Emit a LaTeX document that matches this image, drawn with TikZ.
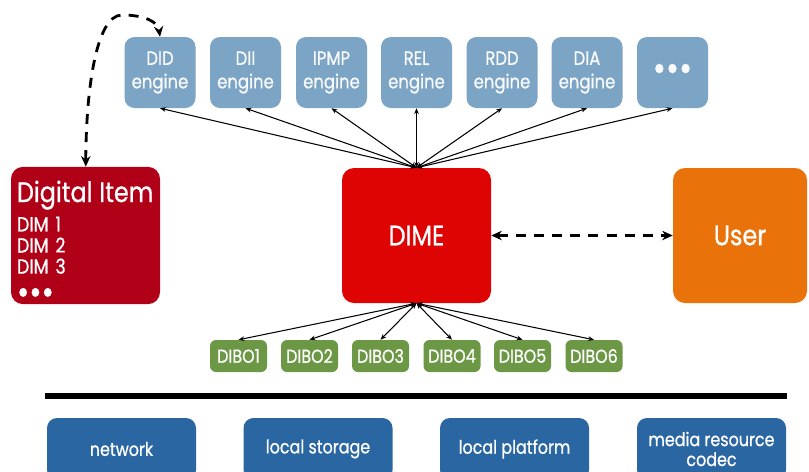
\documentclass[tikz,border=0pt]{standalone}
\usepackage{fontspec}
\setmainfont{Poppins}[FakeStretch=0.85, FakeBold=0.8]
\usetikzlibrary{arrows.meta,calc}
\definecolor{engblue}{RGB}{124,164,197}
\definecolor{direddark}{RGB}{176,0,24}
\definecolor{dimered}{RGB}{222,4,4}
\definecolor{userorange}{RGB}{233,115,10}
\definecolor{dibogreen}{RGB}{108,152,70}
\definecolor{basblue}{RGB}{42,102,162}
\tikzset{
  box/.style={rounded corners=12*0.03cm, inner sep=0pt, text=white, align=center},
  engine/.style={box, fill=engblue, minimum width=71*0.03cm, minimum height=71*0.03cm,
     rounded corners=10*0.03cm, font=\fontsize{16.5}{20}\selectfont, text=white!95!engblue},
  big/.style={box, minimum width=149*0.03cm, minimum height=135*0.03cm},
  dibo/.style={box, fill=dibogreen, minimum width=57*0.03cm, minimum height=32*0.03cm,
     rounded corners=6*0.03cm, font=\fontsize{16}{18}\selectfont},
  base/.style={box, fill=basblue, minimum width=149*0.03cm, minimum height=62*0.03cm,
     rounded corners=10*0.03cm, font=\fontsize{16}{17}\selectfont},
  link/.style={line width=0.9pt, {Stealth[length=5pt,width=4pt]}-{Stealth[length=5pt,width=4pt]}},
  dlink/.style={line width=2.4pt, dash pattern=on 8.5pt off 7pt,
     {Stealth[length=9pt,width=8pt]}-{Stealth[length=9pt,width=8pt]}}
}
\begin{document}
\begin{tikzpicture}[x=0.03cm,y=-0.03cm]
\clip (0,0) rectangle (809,471);
\fill[white] (0,0) rectangle (809,471);
% engines
\node[engine] (did)  at (160,72.5)   {DID\\engine};
\node[engine] (dii)  at (245.5,72.5) {DII\\engine};
\node[engine] (ipmp) at (331.5,72.5) {IPMP\\engine};
\node[engine] (rel)  at (416.5,72.5) {REL\\engine};
\node[engine] (rdd)  at (502,72.5)   {RDD\\engine};
\node[engine] (dia)  at (587,72.5)   {DIA\\engine};
\node[engine, font=\fontsize{32}{32}\selectfont] (more) at (672.5,72.5) {•••};
% main boxes
\node[big, fill=direddark, align=left, text width=137*0.03cm,
      font=\fontsize{17.5}{18}\selectfont] (di) at (85.5,235.5)
  {{\fontsize{24}{26}\selectfont\rule{0pt}{30pt}Digital Item}\\[5pt]
   DIM 1\\DIM 2\\DIM 3\\[8pt]{\fontsize{30}{18}\selectfont •••}};
\node[big, fill=dimered, font=\fontsize{24}{26}\selectfont] (dime) at (416.5,235.5) {DIME};
\node[big, fill=userorange, minimum width=134*0.03cm, font=\fontsize{24}{26}\selectfont] (user) at (740,235.5) {User};
% DIBOs
\node[dibo] (d1) at (238.5,356) {DIBO1};
\node[dibo] (d2) at (309.5,356) {DIBO2};
\node[dibo] (d3) at (380.5,356) {DIBO3};
\node[dibo] (d4) at (452,356)   {DIBO4};
\node[dibo] (d5) at (522.5,356) {DIBO5};
\node[dibo] (d6) at (594,356)   {DIBO6};
% base layer
\coordinate (barL) at (45,396);
\coordinate (barR) at (787,396);
\draw[line width=4.3pt] (barL) -- (barR);
\node[base] (net)  at (121.5,449) {network};
\node[base] (stor) at (318,449)   {local storage};
\node[base] (plat) at (514.5,449) {local platform};
\node[base] (med)  at (711.5,449) {media resource\\codec};
% connectors
\foreach \e in {did,dii,ipmp,rel,rdd,dia,more}
  \draw[link] (dime.north) -- (\e.south);
\foreach \d in {d1,d2,d3,d4,d5,d6}
  \draw[link] (dime.south) -- (\d.north);
\draw[dlink] (dime.east) -- (user.west);
\draw[dlink] ([xshift=75*0.03cm]di.north west) .. controls (86,95) and (95,15) .. (122,15)
   .. controls (145,15) and (158,22) .. (did.north);
\end{tikzpicture}
\end{document}
